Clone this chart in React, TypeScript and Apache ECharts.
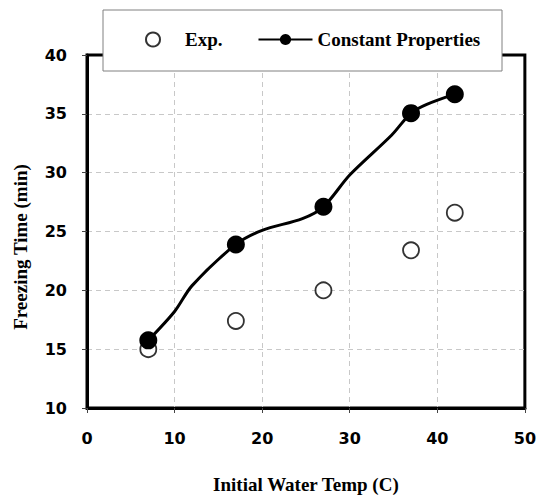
import React, { useEffect, useRef } from "react";
import * as echarts from "echarts";

const expX = [7, 17, 27, 37, 42];
const expY = [15.0, 17.4, 20.0, 23.4, 26.6];

// Constant Properties curve: marked points plus unmarked points
const cpX = [7, 10, 12, 17, 20, 24.6, 27, 30, 34.8, 37, 38.8, 42];
const cpY = [15.75, 18.2, 20.4, 23.9, 25.1, 26.1, 27.1, 29.8, 33.2, 35.06, 35.8, 36.67];
const cpMarked = [true, false, false, true, false, false, true, false, false, true, false, true];

const xTicks = { min: 0, max: 50, interval: 10 };
const yTicks = { min: 10, max: 40, interval: 5 };

const xTitle = "Initial Water Temp (C)";
const yTitle = "Freezing Time (min)";

export default function App() {
  const ref = useRef<HTMLDivElement>(null);
  useEffect(() => {
    const chart = echarts.init(ref.current!, null, { renderer: "svg" });
    const serif = "'Liberation Serif', 'Times New Roman', serif";
    const sans = "'DejaVu Sans', Verdana, sans-serif";
    const split = {
      show: true,
      showMinLine: false,
      showMaxLine: false,
      lineStyle: { color: "#c8c8c8", type: [5, 4], width: 1 },
    };
    chart.setOption({
      animation: false,
      backgroundColor: "#ffffff",
      grid: {
        left: 87,
        right: 14,
        top: 55,
        bottom: 84,
        show: true,
        borderColor: "#000",
        borderWidth: 3,
        backgroundColor: "transparent",
      },
      graphic: [
        {
          type: "rect",
          z: 5,
          shape: { x: 103, y: 10, width: 399, height: 61 },
          style: { fill: "#fff", stroke: "#808080", lineWidth: 1 },
        },
        {
          type: "text",
          z: 5,
          x: 20,
          y: 247,
          rotation: Math.PI / 2,
          style: {
            text: yTitle,
            fill: "#000",
            font: "bold 19px 'Liberation Serif', 'Times New Roman', serif",
            textAlign: "center",
            textVerticalAlign: "middle",
          },
        },
      ],
      legend: {
        z: 6,
        left: 145,
        top: 30,
        padding: 0,
        itemWidth: 54,
        itemHeight: 14,
        itemGap: 35,
        textStyle: { fontFamily: serif, fontWeight: "bold", fontSize: 19, color: "#000" },
        data: ["Exp.", "Constant Properties"],
      },
      xAxis: {
        type: "value",
        min: xTicks.min,
        max: xTicks.max,
        interval: xTicks.interval,
        name: xTitle,
        nameLocation: "middle",
        nameGap: 67,
        nameTextStyle: { fontFamily: serif, fontWeight: "bold", fontSize: 19, color: "#000" },
        axisLine: { show: true, lineStyle: { color: "#000", width: 3 } },
        axisTick: { show: true, length: 5, lineStyle: { color: "#444", width: 1 } },
        axisLabel: { margin: 22, fontFamily: sans, fontWeight: "bold", fontSize: 16, color: "#000" },
        splitLine: split,
      },
      yAxis: {
        type: "value",
        min: yTicks.min,
        max: yTicks.max,
        interval: yTicks.interval,
        axisLine: { show: true, lineStyle: { color: "#000", width: 3 } },
        axisTick: { show: true, length: 5, lineStyle: { color: "#444", width: 1 } },
        axisLabel: { margin: 20, fontFamily: sans, fontWeight: "bold", fontSize: 16, color: "#000" },
        splitLine: split,
      },
      series: [
        {
          name: "Exp.",
          type: "scatter",
          symbol: "circle",
          symbolSize: 16,
          itemStyle: { color: "#fff", borderColor: "#000", borderWidth: 1.8 },
          data: expX.map((x, i) => [x, expY[i]]),
          z: 3,
        },
        {
          name: "Constant Properties",
          type: "line",
          smooth: 0.3,
          symbol: "circle",
          symbolSize: 18,
          showAllSymbol: true,
          itemStyle: { color: "#000" },
          lineStyle: { color: "#000", width: 3 },
          data: cpX.map((x, i) =>
            cpMarked[i] ? { value: [x, cpY[i]] } : { value: [x, cpY[i]], symbol: "none" }
          ),
          z: 4,
        },
      ],
    });
    return () => chart.dispose();
  }, []);
  return (
    <div
      ref={ref}
      style={{ position: "absolute", left: 0, top: 0, width: 539, height: 499 }}
    />
  );
}
